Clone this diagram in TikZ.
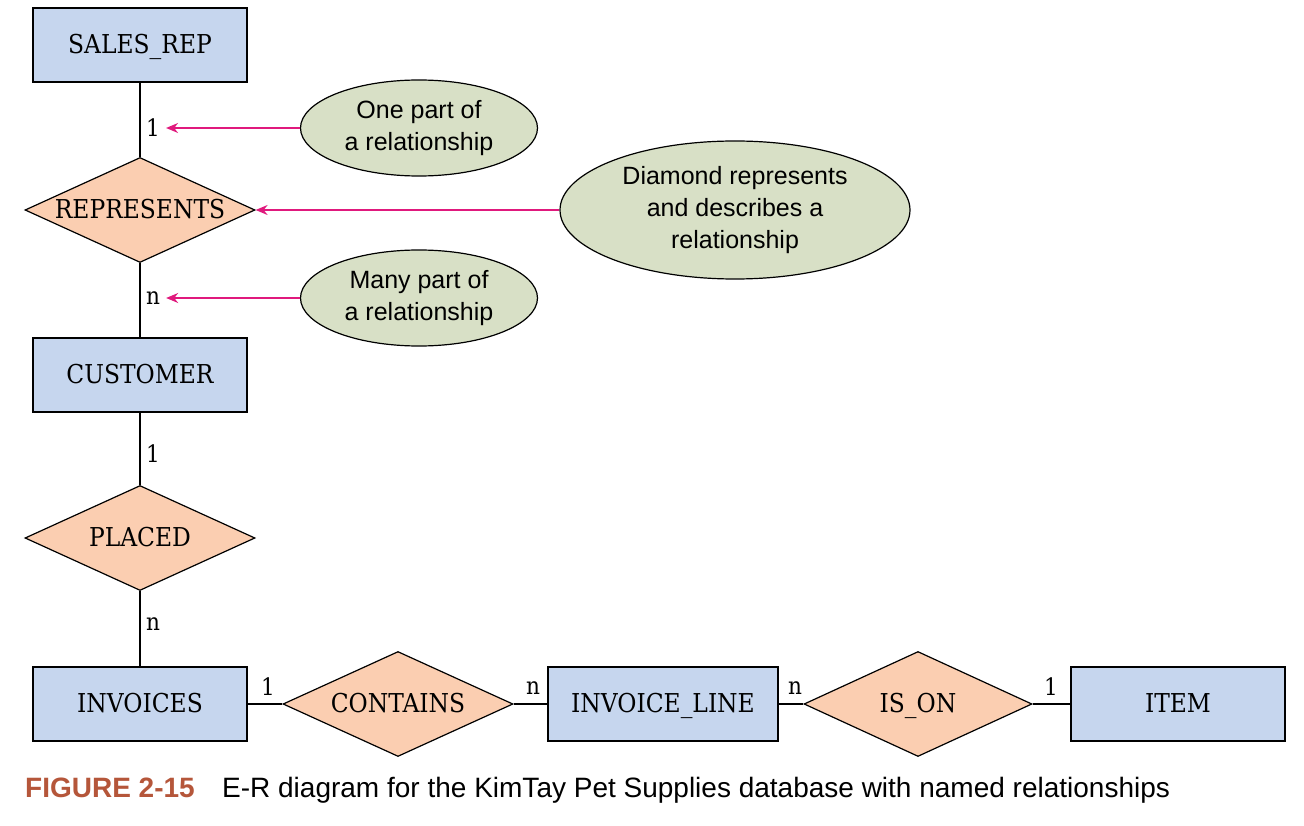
\documentclass[tikz,border=0pt]{standalone}
\usepackage{fontspec}
\usetikzlibrary{shapes.geometric,arrows.meta}
\newfontfamily\sansfnt{Liberation Sans}
\newfontfamily\seriffnt{DejaVu Serif Condensed}
\definecolor{boxblue}{HTML}{C6D6EE}
\definecolor{peach}{HTML}{FBCEB1}
\definecolor{sage}{HTML}{D8E0C6}
\definecolor{magentaline}{HTML}{E0197D}
\definecolor{capred}{HTML}{B5563A}
\tikzset{
  entity/.style={draw=black, line width=2pt, fill=boxblue, rectangle, minimum width=214pt, minimum height=74pt, inner sep=0pt, text height=20pt, text depth=3pt, font=\seriffnt\fontsize{26}{30}\selectfont},
  relation/.style={draw=black, line width=1.2pt, fill=peach, diamond, aspect=2.19, minimum width=230pt, minimum height=105pt, inner sep=0pt, text height=20pt, text depth=3pt, font=\seriffnt\fontsize{26}{30}\selectfont},
  note/.style={draw=black, line width=1.2pt, fill=sage, ellipse, inner sep=0pt, align=center, font=\sansfnt\fontsize{25}{32}\selectfont},
  card/.style={inner sep=2pt, font=\seriffnt\fontsize{24}{28}\selectfont},
  link/.style={draw=black, line width=2pt},
  pointer/.style={draw=magentaline, line width=1.6pt, -{Stealth[length=12pt,width=10pt]}, shorten >=4pt}
}
\begin{document}
\begin{tikzpicture}[x=1pt,y=-1pt]
\useasboundingbox (0,0) rectangle (1304,826);
% entities
\node[entity] (salesrep) at (140,45) {SALES\_REP};
\node[relation] (represents) at (140,210) {REPRESENTS};
\node[entity] (customer) at (140,375) {CUSTOMER};
\node[relation] (placed) at (140,538) {PLACED};
\node[entity] (invoices) at (140,704) {INVOICES};
\node[relation] (contains) at (398,704) {CONTAINS};
\node[entity, minimum width=230pt] (invline) at (663,704) {INVOICE\_LINE};
\node[relation, minimum width=228pt] (ison) at (918,704) {IS\_ON};
\node[entity] (item) at (1178,704) {ITEM};
% connectors
\draw[link] (salesrep) -- (represents);
\draw[link] (represents) -- (customer);
\draw[link] (customer) -- (placed);
\draw[link] (placed) -- (invoices);
\draw[link] (invoices) -- (contains);
\draw[link] (contains) -- (invline);
\draw[link] (invline) -- (ison);
\draw[link] (ison) -- (item);
% cardinalities
\node[card] (c1) at (153,128) {1};
\node[card] (c2) at (153,298) {n};
\node[card] (c3) at (153,454) {1};
\node[card] (c4) at (153,624) {n};
\node[card] (c5) at (268,687) {1};
\node[card] (c6) at (533,688) {n};
\node[card] (c7) at (795,688) {n};
\node[card] (c8) at (1051,687) {1};
% notes
\node[note, minimum width=237pt, minimum height=96pt] (one) at (419,128) {One part of\\a relationship};
\node[note, minimum width=350pt, minimum height=138pt] (diam) at (735,210) {Diamond represents\\and describes a\\relationship};
\node[note, minimum width=237pt, minimum height=96pt] (many) at (419,298) {Many part of\\a relationship};
\draw[pointer] (one.west) -- (c1.east);
\draw[pointer, shorten >=0pt] (diam.west) -- (represents.east);
\draw[pointer] (many.west) -- (c2.east);
% caption
\node[anchor=base west, inner sep=0pt, text=capred, font=\sansfnt\bfseries\fontsize{28}{30}\selectfont] (figno) at (25,797) {FIGURE 2-15};
\node[anchor=base west, inner sep=0pt, font=\sansfnt\fontsize{28}{30}\selectfont] (captxt) at (222,797) {E-R diagram for the KimTay Pet Supplies database with named relationships};
\end{tikzpicture}
\end{document}
